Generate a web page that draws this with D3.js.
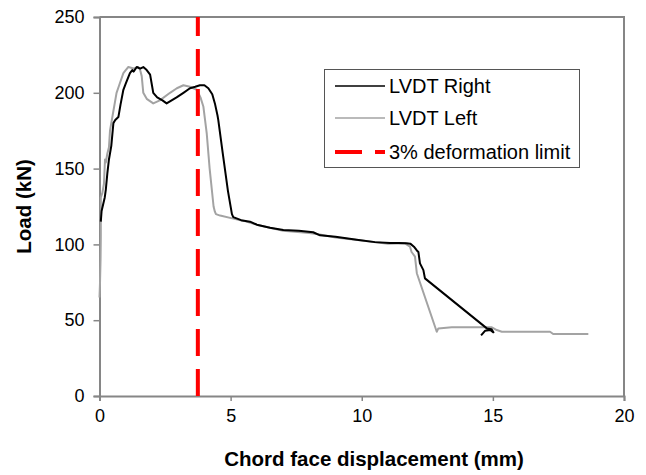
<!DOCTYPE html>
<html>
<head>
<meta charset="utf-8">
<script src="https://cdn.jsdelivr.net/npm/d3@7/dist/d3.min.js"></script>
<style>
  html, body { margin: 0; padding: 0; background: #fff; }
  svg { display: block; font-family: "Liberation Sans", Arial, sans-serif; }
</style>
</head>
<body>
<svg id="chart" width="646" height="475"></svg>
<script>
// Load vs chord face displacement, two LVDTs
const lvdtRight = [
  [0.05,115],[0.08,122],[0.2,131],[0.24,136],[0.3,147],[0.36,156],[0.45,165],[0.53,180],
  [0.6,182],[0.72,184],[0.8,192],[0.91,202],[1.0,206],[1.16,213],[1.25,215],[1.3,214],
  [1.42,217],[1.55,216],[1.67,217],[1.8,215],[1.93,212],[2.0,205],[2.05,200],[2.2,197],
  [2.4,195],[2.56,193],[2.75,195],[2.94,197],[3.2,200],[3.45,203],[3.65,204],[3.83,205],
  [4.0,205],[4.15,203],[4.3,199],[4.4,193],[4.5,185],[4.53,182],[4.7,160],[4.9,135],
  [5.05,120],[5.1,118],[5.4,116],[5.74,115],[6.0,113],[6.5,111],[7.01,109.5],[7.6,109],
  [8.15,108],[8.41,106],[9.0,105],[9.81,103],[10.5,101.5],[11.08,101],[11.4,101],
  [11.71,100.7],[11.85,100.5],[11.99,98.5],[12.1,96],[12.16,95],[12.2,90],[12.22,87.5],
  [12.35,83],[12.41,77.6],[14.77,44.6],[14.95,44],[15.02,42],[14.9,43.5],[14.7,43],
  [14.6,41],[14.55,40]
];
const lvdtLeft = [
  [0.0,65],[0.02,75],[0.04,90],[0.05,105],[0.05,131],[0.11,134],[0.17,140],[0.21,156],
  [0.24,154],[0.3,160],[0.36,164],[0.4,175],[0.5,185],[0.65,200],[0.75,205],[0.91,213],
  [1.0,215],[1.1,217],[1.3,216],[1.48,217],[1.55,215],[1.61,211],[1.67,200],[1.8,196],
  [2.05,193],[2.3,195],[2.69,200],[2.95,203],[3.2,205],[3.45,204],[3.71,202],[3.85,197],
  [3.96,191],[4.09,173],[4.2,150],[4.35,125],[4.4,121.6],[4.44,120],[4.6,119],[5.1,117],
  [5.5,115.5],[6.0,113],[7.0,109],[8.0,107.5],[8.4,106.5],[9.0,104.5],[10.0,102.5],
  [11.0,100.5],[11.65,100.7],[11.84,98.5],[11.9,95],[12.03,92],[12.1,81],[12.86,42.4],
  [12.92,44.6],[13.43,45.3],[14.77,45.3],[14.96,45.3],[15.15,43.5],[15.34,42.4],
  [17.18,42.4],[17.3,40.9],[18.64,40.9]
];
const deformationLimit = 3.75;   // 3% deformation limit (mm)
const xTicks = [0, 5, 10, 15, 20];
const yTicks = [0, 50, 100, 150, 200, 250];
const legendLabels = ["LVDT Right", "LVDT Left", "3% deformation limit"];

const svg = d3.select("#chart");
const m = { left: 99.5, right: 624, top: 17, bottom: 396 };

const x = d3.scaleLinear().domain([0, 20]).range([m.left, m.right]);
const y = d3.scaleLinear().domain([0, 250]).range([m.bottom, m.top]);

const axisColor = "#868686";

// axes
const gx = svg.append("g").attr("transform", `translate(0,${m.bottom})`)
  .call(d3.axisBottom(x).tickValues(xTicks).tickSize(5).tickPadding(8).tickFormat(d3.format("d")));
const gy = svg.append("g").attr("transform", `translate(${m.left},0)`)
  .call(d3.axisLeft(y).tickValues(yTicks).tickSize(6).tickPadding(9).tickFormat(d3.format("d")));
[gx, gy].forEach(g => {
  g.select(".domain").attr("stroke", axisColor).attr("stroke-width", 2);
  g.selectAll(".tick line").attr("stroke", axisColor).attr("stroke-width", 1.5);
  g.selectAll(".tick text").attr("fill", "#000").style("font-size", "18px")
    .style("font-family", "'Liberation Sans', Arial, sans-serif");
});

// plot frame (top and right edges)
svg.append("path")
  .attr("d", `M${m.left},${m.top}H${m.right}V${m.bottom}`)
  .attr("fill", "none").attr("stroke", axisColor).attr("stroke-width", 2);

// data lines
const line = d3.line().x(d => x(d[0])).y(d => y(d[1]));
svg.append("path").datum(lvdtLeft).attr("d", line)
  .attr("fill", "none").attr("stroke", "#a3a3a3").attr("stroke-width", 2).attr("stroke-linejoin", "round");
svg.append("path").datum(lvdtRight).attr("d", line)
  .attr("fill", "none").attr("stroke", "#000").attr("stroke-width", 2).attr("stroke-linejoin", "round");

// deformation limit
svg.append("line")
  .attr("x1", x(deformationLimit)).attr("x2", x(deformationLimit))
  .attr("y1", y(0)).attr("y2", y(250))
  .attr("stroke", "#ff0000").attr("stroke-width", 4).attr("stroke-dasharray", "27,13");

// axis titles
svg.append("text").attr("x", 374).attr("y", 466)
  .attr("text-anchor", "middle").style("font-weight", "bold").style("font-size", "20.5px")
  .text("Chord face displacement (mm)");
svg.append("text").attr("transform", `translate(31,${(m.top + m.bottom) / 2}) rotate(-90)`)
  .attr("text-anchor", "middle").style("font-weight", "bold").style("font-size", "20.5px")
  .text("Load (kN)");

// legend
const lg = svg.append("g");
lg.append("rect").attr("x", 324.5).attr("y", 69.5).attr("width", 255).attr("height", 98)
  .attr("fill", "#fff").attr("stroke", "#555").attr("stroke-width", 1);
const rows = [
  { label: legendLabels[0], y: 86, stroke: "#000", w: 1.5, dash: null },
  { label: legendLabels[1], y: 118, stroke: "#a3a3a3", w: 1.5, dash: null },
  { label: legendLabels[2], y: 152, stroke: "#ff0000", w: 4, dash: "27,13" }
];
rows.forEach(r => {
  lg.append("line").attr("x1", 335).attr("x2", 385).attr("y1", r.y).attr("y2", r.y)
    .attr("stroke", r.stroke).attr("stroke-width", r.w).attr("stroke-dasharray", r.dash);
  lg.append("text").attr("x", 389).attr("y", r.y + 7).style("font-size", "20px").text(r.label);
});
</script>
</body>
</html>
